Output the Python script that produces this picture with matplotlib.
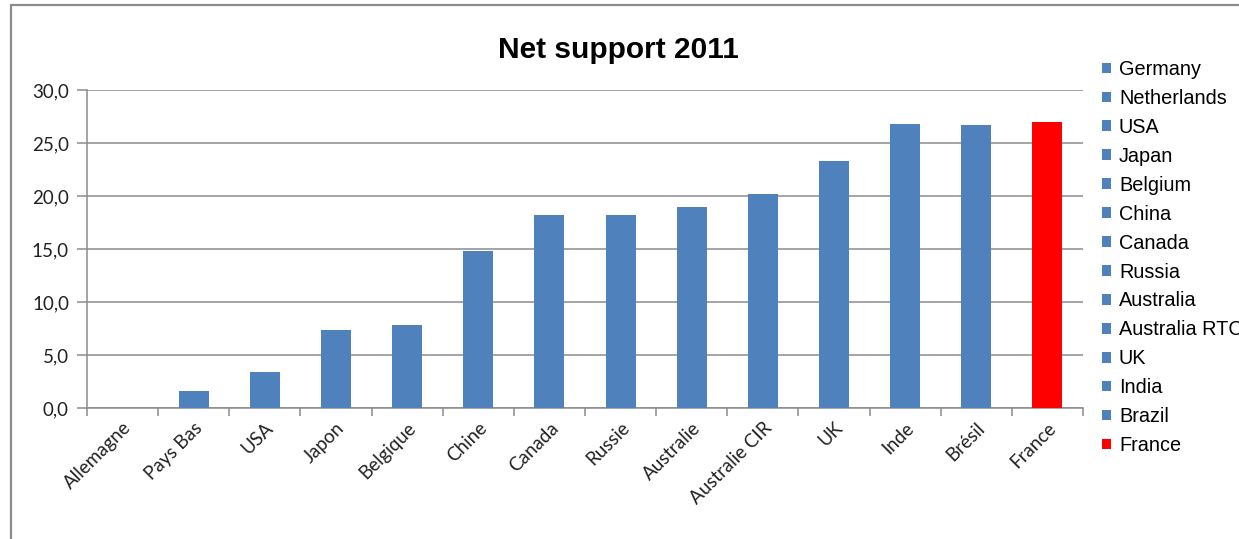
import numpy as np
import matplotlib.pyplot as plt
from matplotlib.ticker import FuncFormatter, FixedLocator
from matplotlib.patches import Rectangle

# data
categories = ["Allemagne", "Pays Bas", "USA", "Japon", "Belgique", "Chine", "Canada",
              "Russie", "Australie", "Australie CIR", "UK", "Inde", "Brésil", "France"]
legend_names = ["Germany", "Netherlands", "USA", "Japan", "Belgium", "China", "Canada",
                "Russia", "Australia", "Australia RTC", "UK", "India", "Brazil", "France"]
values = [0.0, 1.6, 3.4, 7.4, 7.8, 14.8, 18.2, 18.2, 19.0, 20.2, 23.3, 26.8, 26.7, 27.0]
highlight = "France"

blue = "#4F81BD"
red = "#FF0000"
grid_col = "#8C8C8C"

fig = plt.figure(figsize=(12.39, 5.39), dpi=100)
ax = fig.add_axes([87 / 1239, 1 - 408 / 539, (1083 - 87) / 1239, (408 - 90) / 539])

x = np.arange(len(categories))
colors = [red if c == highlight else blue for c in legend_names]
bars = ax.bar(x, values, width=0.42, color=colors, zorder=3)

ax.set_xlim(-0.5, len(categories) - 0.5)
ax.set_ylim(0, 30)
ax.set_yticks(np.arange(0, 31, 5))
ax.yaxis.set_major_formatter(FuncFormatter(lambda v, p: f"{v:.1f}".replace(".", ",")))
ax.grid(axis="y", color=grid_col, linewidth=1.1, zorder=0)

ax.set_xticks(x)
ax.set_xticklabels(categories, rotation=45, ha="right", rotation_mode="anchor",
                   fontsize=13.5, family="Lato", color="#222222")
ax.tick_params(axis="x", length=0, pad=8)
ax.xaxis.set_minor_locator(FixedLocator(np.arange(-0.5, len(categories), 1)))
ax.tick_params(axis="x", which="minor", length=6, color=grid_col, width=1.1)
ax.tick_params(axis="y", length=7, color=grid_col, width=1.1, labelsize=13.5,
               labelcolor="#222222", pad=6)
for lab in ax.get_yticklabels():
    lab.set_family("Lato")

for side in ["top", "right"]:
    ax.spines[side].set_visible(False)
for side in ["left", "bottom"]:
    ax.spines[side].set_color(grid_col)
    ax.spines[side].set_linewidth(1.1)

fig.text(618 / 1239, 1 - 50 / 539, "Net support 2011", ha="center", va="center",
         fontsize=21.5, fontweight="bold", family="Liberation Sans")

# legend runs off the right edge like the original ("Australia RTC" is cut)
leg = ax.legend(bars.patches, legend_names, loc="upper left",
                bbox_to_anchor=(1102 / 1239, 1 - 60 / 539), bbox_transform=fig.transFigure,
                frameon=False, prop={"family": "Liberation Sans", "size": 14.3},
                handlelength=0.45, handleheight=0.45, handletextpad=0.4,
                labelspacing=0.5, borderpad=0, borderaxespad=0)

# outer chart border (top and left visible)
fig.patches.append(Rectangle((11 / 1239, -0.1), 1.2, 1 - 5 / 539 + 0.1,
                             transform=fig.transFigure, fill=False,
                             edgecolor="#8C8C8C", linewidth=1.6))

fig.savefig("out.png", dpi=100)
